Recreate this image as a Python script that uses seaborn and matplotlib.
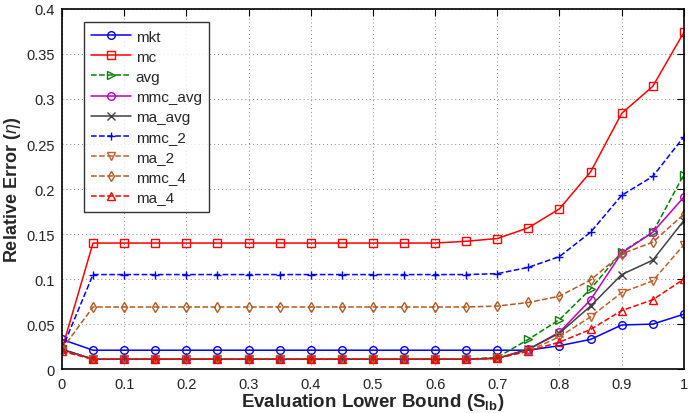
import matplotlib

matplotlib.use("Agg")

import matplotlib.pyplot as plt
import numpy as np
import seaborn as sns

lower_bound = [0.0, 0.05, 0.1, 0.15, 0.2, 0.25, 0.3, 0.35, 0.4, 0.45, 0.5,
               0.55, 0.6, 0.65, 0.7, 0.75, 0.8, 0.85, 0.9, 0.95, 1.0]

mkt = [0.033] + 14 * [0.021] + [0.021, 0.026, 0.033, 0.049, 0.050, 0.061]
mc = [0.022] + 12 * [0.140] + [0.142, 0.145, 0.157, 0.178, 0.219, 0.284, 0.314, 0.374]
avg = [0.022] + 13 * [0.011] + [0.013, 0.033, 0.055, 0.089, 0.130, 0.152, 0.216]
mmc_avg = [0.022] + 13 * [0.011] + [0.012, 0.022, 0.041, 0.077, 0.129, 0.152, 0.191]
ma_avg = [0.022] + 13 * [0.011] + [0.012, 0.022, 0.040, 0.070, 0.105, 0.121, 0.165]
mmc_2 = [0.022] + 13 * [0.105] + [0.106, 0.113, 0.125, 0.152, 0.193, 0.214, 0.258]
ma_2 = [0.020] + 13 * [0.011] + [0.012, 0.020, 0.036, 0.058, 0.085, 0.098, 0.138]
mmc_4 = [0.022] + 13 * [0.069] + [0.070, 0.074, 0.081, 0.099, 0.128, 0.141, 0.172]
ma_4 = [0.020] + 13 * [0.011] + [0.012, 0.020, 0.030, 0.044, 0.065, 0.077, 0.100]

x_labels = ["0", "0.1", "0.2", "0.3", "0.4", "0.5", "0.6", "0.7", "0.8", "0.9", "1"]
y_labels = ["0", "0.05", "0.1", "0.15", "0.2", "0.25", "0.3", "0.35", "0.4"]

series = [
    ("mkt", mkt, "#0000ff", "o", "-"),
    ("mc", mc, "#ff0000", "s", "-"),
    ("avg", avg, "#008000", ">", "--"),
    ("mmc_avg", mmc_avg, "#bf00bf", "o", "-"),
    ("ma_avg", ma_avg, "#404040", "x", "-"),
    ("mmc_2", mmc_2, "#0000ff", "+", "--"),
    ("ma_2", ma_2, "#c0602a", "v", "--"),
    ("mmc_4", mmc_4, "#b05a20", "d", "--"),
    ("ma_4", ma_4, "#ff0000", "^", "--"),
]

sns.set_style("white")
plt.rcParams["font.family"] = ["Liberation Sans", "DejaVu Sans"]
plt.rcParams["mathtext.fontset"] = "custom"
plt.rcParams["mathtext.rm"] = "Liberation Sans"
plt.rcParams["mathtext.it"] = "Liberation Sans:italic"
plt.rcParams["mathtext.bf"] = "Liberation Sans:bold"

fig = plt.figure(figsize=(6.88, 4.14), dpi=100)
ax = fig.add_axes([0.090, 0.106, 0.904, 0.870])

for name, values, color, marker, style in series:
    sns.lineplot(
        x=lower_bound, y=values, ax=ax, color=color, marker=marker,
        linestyle=style, linewidth=1.1, markersize=5.5,
        markerfacecolor="none", markeredgecolor=color, markeredgewidth=1.0,
        label=name,
    )

ax.set_xlim(0, 1)
ax.set_ylim(0, 0.4)
ax.set_xticks(np.arange(0, 1.01, 0.1))
ax.set_xticklabels(x_labels)
ax.set_yticks(np.arange(0, 0.401, 0.05))
ax.set_yticklabels(y_labels)
ax.grid(True, linestyle=(0, (1, 3)), color="#888888", linewidth=0.7)
ax.tick_params(direction="in", length=5, labelsize=10.5, top=True, right=True,
               colors="black", labelcolor="#222222")
ax.tick_params(axis="x", pad=6)
ax.tick_params(axis="y", pad=5)
for spine in ax.spines.values():
    spine.set_color("black")
    spine.set_linewidth(1.2)

ax.set_xlabel(r"Evaluation Lower Bound (S$_{\mathbf{lb}}$)", fontsize=13.5, fontweight="bold")
ax.set_ylabel(r"Relative Error ($\eta$)", fontsize=13, fontweight="bold")
ax.xaxis.set_label_coords(0.5, -0.062)
ax.yaxis.set_label_coords(-0.062, 0.5)

legend = ax.legend(loc="upper left", bbox_to_anchor=(0.035, 0.964), fontsize=11,
                   frameon=True, fancybox=False, edgecolor="black", handlelength=2.6,
                   handletextpad=0.3, labelspacing=0.4, borderpad=0.5, borderaxespad=0)
legend.get_frame().set_linewidth(1.0)

fig.savefig("out.png", dpi=100)
